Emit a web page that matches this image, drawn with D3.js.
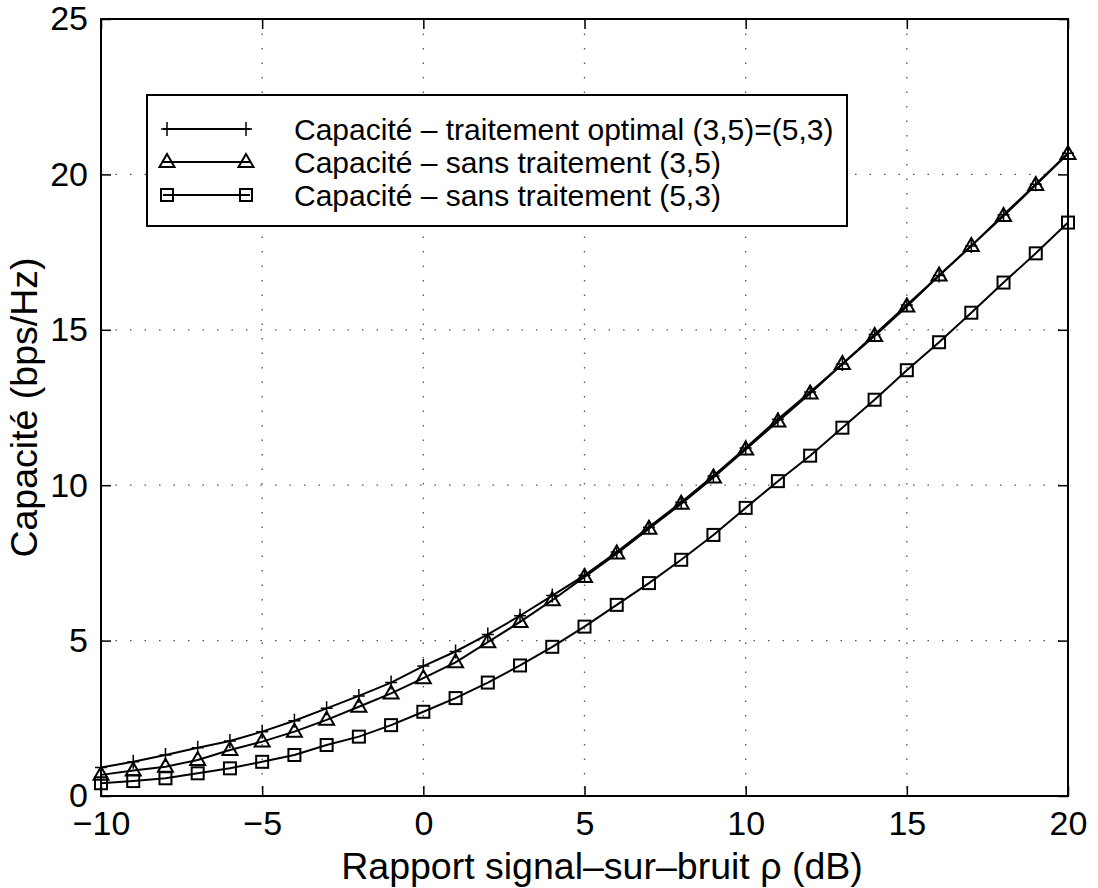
<!DOCTYPE html>
<html><head><meta charset="utf-8">
<script src="https://cdn.jsdelivr.net/npm/d3@7"></script>
<style>
html,body{margin:0;padding:0;background:#fff;}
text{font-family:"Liberation Sans",Arial,Helvetica,sans-serif;fill:#000;}
</style></head>
<body>
<svg id="c" width="1098" height="888"></svg>
<script>
const snr = d3.range(-10, 21, 1);
const capOptimal = [0.92,1.10,1.32,1.55,1.77,2.07,2.42,2.82,3.22,3.65,4.18,4.65,5.2,5.8,6.45,7.1,7.85,8.65,9.45,10.3,11.2,12.12,13.0,13.9,14.85,15.8,16.75,17.7,18.7,19.68,20.68];
const capSans35 = [0.68,0.82,0.94,1.16,1.48,1.75,2.07,2.45,2.87,3.30,3.79,4.3,4.95,5.6,6.3,7.05,7.8,8.6,9.4,10.25,11.15,12.05,12.95,13.9,14.8,15.75,16.75,17.7,18.66,19.66,20.66];
const capSans53 = [0.41,0.48,0.57,0.73,0.89,1.10,1.32,1.64,1.91,2.28,2.71,3.15,3.65,4.2,4.8,5.45,6.15,6.85,7.6,8.4,9.27,10.13,10.95,11.85,12.75,13.7,14.6,15.55,16.52,17.46,18.45];
const xTicks = [-10,-5,0,5,10,15,20];
const yTicks = [0,5,10,15,20,25];
const seriesNames = ["Capacité – traitement optimal (3,5)=(5,3)","Capacité – sans traitement (3,5)","Capacité – sans traitement (5,3)"];
const markerTypes = ["plus","triangle","square"];
const xLabel = "Rapport signal–sur–bruit ρ (dB)";
const yLabel = "Capacité (bps/Hz)";

const L=101, R=1068, T=19, B=796;
const svg = d3.select("#c");
const x = d3.scaleLinear().domain([-10,20]).range([L,R]);
const y = d3.scaleLinear().domain([0,25]).range([B,T]);

// grid
const grid = svg.append("g").attr("stroke","#555").attr("stroke-width",1.3).attr("stroke-dasharray","1.5,13");
xTicks.slice(1,-1).forEach(v=>grid.append("line").attr("x1",x(v)).attr("x2",x(v)).attr("y1",T).attr("y2",B));
yTicks.slice(1,-1).forEach(v=>grid.append("line").attr("x1",L).attr("x2",R).attr("y1",y(v)).attr("y2",y(v)));

// axes with inward ticks
const tk = 10;
const ax = svg.append("g");
ax.append("g").attr("transform",`translate(0,${B})`).call(d3.axisBottom(x).tickValues(xTicks).tickSize(-tk).tickPadding(14).tickFormat(d=>d<0?"−"+Math.abs(d):d))
  .call(g=>{g.select(".domain").remove();g.selectAll("text").attr("font-size",34).attr("dy","0.71em").attr("y",15);});
ax.append("g").attr("transform",`translate(0,${T})`).call(d3.axisTop(x).tickValues(xTicks).tickSize(-tk).tickFormat(""))
  .call(g=>g.select(".domain").remove());
ax.append("g").attr("transform",`translate(${L},0)`).call(d3.axisLeft(y).tickValues(yTicks).tickSize(-tk).tickPadding(13))
  .call(g=>{g.select(".domain").remove();g.selectAll("text").attr("font-size",34);});
ax.append("g").attr("transform",`translate(${R},0)`).call(d3.axisRight(y).tickValues(yTicks).tickSize(-tk).tickFormat(""))
  .call(g=>g.select(".domain").remove());
ax.selectAll(".tick line").attr("stroke","#000").attr("stroke-width",1.5);
svg.append("rect").attr("x",L).attr("y",T).attr("width",R-L).attr("height",B-T).attr("fill","none").attr("stroke","#000").attr("stroke-width",2);

// labels
svg.append("text").attr("x",602).attr("y",879).attr("text-anchor","middle").attr("font-size",37.5).text(xLabel);
svg.append("text").attr("transform",`translate(37,${(T+B)/2}) rotate(-90)`).attr("text-anchor","middle").attr("font-size",37.5).text(yLabel);

// markers
function drawMarker(g, type, cx, cy){
  if(type==="plus"){
    g.append("path").attr("d",`M${cx-6},${cy}H${cx+6}M${cx},${cy-7}V${cy+7}`).attr("stroke","#000").attr("stroke-width",1.5).attr("fill","none");
  } else if(type==="triangle"){
    g.append("path").attr("d",`M${cx},${cy-8}L${cx+7.5},${cy+5}L${cx-7.5},${cy+5}Z`).attr("stroke","#000").attr("stroke-width",2).attr("fill","none");
  } else {
    g.append("rect").attr("x",cx-6).attr("y",cy-6).attr("width",12).attr("height",12).attr("stroke","#000").attr("stroke-width",2).attr("fill","none");
  }
}
const allSeries = [capOptimal, capSans35, capSans53];
const line = d3.line().x((d,i)=>x(snr[i])).y(d=>y(d));
const plot = svg.append("g");
allSeries.forEach((vals,k)=>{
  plot.append("path").attr("d",line(vals)).attr("fill","none").attr("stroke","#000").attr("stroke-width",2);
});
allSeries.forEach((vals,k)=>{
  const g = plot.append("g");
  vals.forEach((v,i)=>drawMarker(g, markerTypes[k], x(snr[i]), y(v)));
});

// legend
const lg = svg.append("g");
lg.append("rect").attr("x",147).attr("y",95).attr("width",700).attr("height",131).attr("fill","#fff").attr("stroke","#000").attr("stroke-width",2);
const rows = [129,162,195];
seriesNames.forEach((n,k)=>{
  const yy = rows[k];
  lg.append("line").attr("x1",163).attr("x2",250).attr("y1",yy).attr("y2",yy).attr("stroke","#000").attr("stroke-width",2);
  drawMarker(lg, markerTypes[k], 167, yy);
  drawMarker(lg, markerTypes[k], 246, yy);
  lg.append("text").attr("x",294).attr("y",yy).attr("dy","0.36em").attr("font-size",30).text(n);
});
</script>
</body></html>
